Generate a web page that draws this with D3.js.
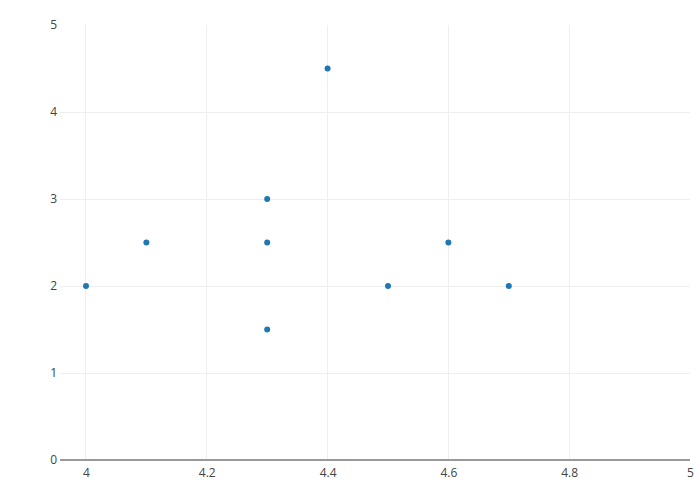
<!DOCTYPE html>
<html><head><meta charset="utf-8">
<script src="https://cdn.jsdelivr.net/npm/d3@7"></script>
<style>body{margin:0;background:#fff}svg{display:block}text{font-family:"Open Sans",sans-serif}</style>
</head><body>
<svg id="c" width="700" height="500"></svg>
<script>
const xValues = [4, 4.1, 4.3, 4.3, 4.3, 4.4, 4.5, 4.6, 4.7];
const yValues = [2, 2.5, 3, 2.5, 1.5, 4.5, 2, 2.5, 2];
const xTicks = [4, 4.2, 4.4, 4.6, 4.8, 5];
const yTicks = [0, 1, 2, 3, 4, 5];

const svg = d3.select("#c");
const L = 60, R = 690, T = 25, B = 460;
const x = d3.scaleLinear().domain([3.957, 5]).range([L, R]);
const y = d3.scaleLinear().domain([0, 5]).range([B, T]);

const g = svg.append("g");
// grid (none at the plot edges)
g.selectAll(".vx").data(xTicks.filter(d => d < 5)).enter().append("line")
  .attr("x1", d => x(d)).attr("x2", d => x(d)).attr("y1", T).attr("y2", B)
  .attr("stroke", "#eee").attr("stroke-width", 1).attr("shape-rendering","crispEdges");
g.selectAll(".hy").data(yTicks.filter(d => d > 0 && d < 5)).enter().append("line")
  .attr("x1", L).attr("x2", R).attr("y1", d => y(d)).attr("y2", d => y(d))
  .attr("stroke", "#eee").attr("stroke-width", 1).attr("shape-rendering","crispEdges");
// zero line
g.append("line").attr("x1", L).attr("x2", R).attr("y1", y(0)).attr("y2", y(0))
  .attr("stroke", "#999").attr("stroke-width", 2);

const xAxis = d3.axisBottom(x).tickValues(xTicks).tickSize(0).tickPadding(8).tickFormat(d3.format("~g"));
const xa = svg.append("g").attr("transform", `translate(0,${B})`).call(xAxis);
xa.select(".domain").remove();
xa.selectAll("text").attr("fill", "#444").style("font-size", "12px");

const yAxis = d3.axisLeft(y).tickValues(yTicks).tickSize(0).tickPadding(3).tickFormat(d3.format("~g"));
const ya = svg.append("g").attr("transform", `translate(${L},0)`).call(yAxis);
ya.select(".domain").remove();
ya.selectAll("text").attr("fill", "#444").style("font-size", "12px");

svg.append("g").selectAll("circle").data(xValues.map((v, i) => [v, yValues[i]])).enter()
  .append("circle").attr("cx", d => x(d[0])).attr("cy", d => y(d[1])).attr("r", 3)
  .attr("fill", "#1f77b4");
</script>
</body></html>
